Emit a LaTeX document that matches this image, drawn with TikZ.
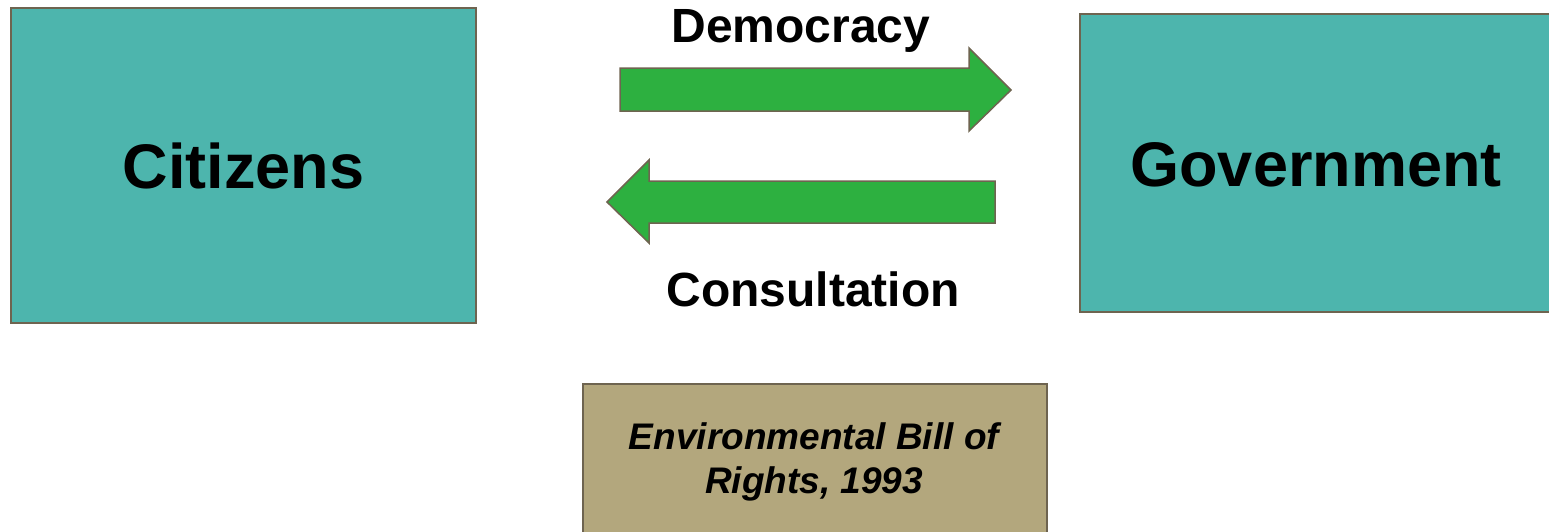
\documentclass[tikz,border=0pt]{standalone}
\usepackage{fontspec}
\setmainfont{Liberation Sans}
\definecolor{teal1}{HTML}{4DB5AD}
\definecolor{tan1}{HTML}{B3A77D}
\definecolor{green1}{HTML}{2DB040}
\definecolor{edge1}{HTML}{6E6450}
\begin{document}
\begin{tikzpicture}[x=1pt,y=-1pt,
  box/.style={draw=edge1,line width=1.5pt,inner sep=0pt},
  bigarrow/.style={draw=edge1,fill=green1,line width=1.5pt,line join=miter},
  lbl/.style={font=\fontsize{48}{56}\selectfont\bfseries,inner sep=0pt}]
\useasboundingbox (0,0) rectangle (1549,531);
\node[box,fill=teal1,minimum width=465pt,minimum height=315pt,
  font=\fontsize{63}{70}\selectfont\bfseries] (cit) at (243.5,165.5) {Citizens};
\node[box,fill=teal1,minimum width=480pt,minimum height=298pt,anchor=north west] (gov) at (1079,13) {};
\node[font=\fontsize{63}{70}\selectfont\bfseries] (govt) at (1316,165) {Government};
\node[box,fill=tan1,minimum width=464pt,minimum height=160pt,anchor=north west] (ebr) at (582,383) {};
\node[align=center,font=\fontsize{37}{44}\selectfont\bfseries\itshape] (ebrt) at (814,462) {Environmental Bill of\\Rights, 1993};
\draw[bigarrow] (620,68) -- (969,68) -- (969,48) -- (1011,90) -- (969,131) -- (969,111) -- (620,111) -- cycle;
\draw[bigarrow] (995,181) -- (649,181) -- (649,160) -- (607,202) -- (649,243) -- (649,223) -- (995,223) -- cycle;
\node[lbl] (dem) at (801,31) {Democracy};
\node[lbl] (con) at (813,289) {Consultation};
\end{tikzpicture}
\end{document}
